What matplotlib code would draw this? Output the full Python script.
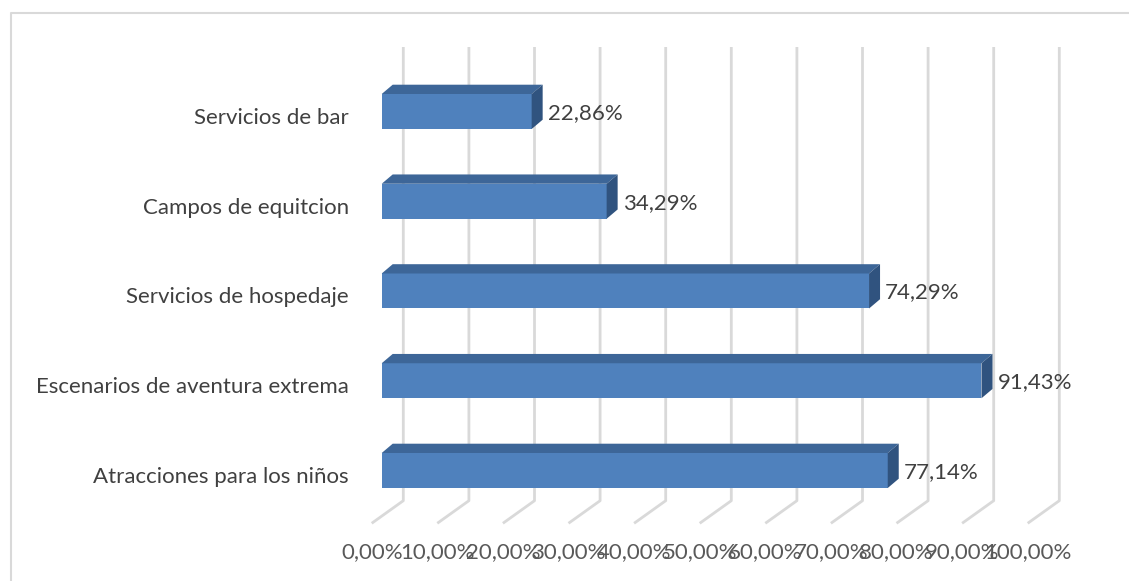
import matplotlib
matplotlib.use("Agg")
import matplotlib.pyplot as plt
from matplotlib.patches import Polygon
from matplotlib.lines import Line2D

categories = ["Servicios de bar", "Campos de equitcion", "Servicios de hospedaje",
              "Escenarios de aventura extrema", "Atracciones para los niños"]
values = [22.86, 34.29, 74.29, 91.43, 77.14]
ticks = [0, 10, 20, 30, 40, 50, 60, 70, 80, 90, 100]

plt.rcParams['font.family'] = ['Lato', 'DejaVu Sans']

W, H = 1129, 581
fig = plt.figure(figsize=(W / 100, H / 100), dpi=100)
ax = fig.add_axes([0, 0, 1, 1])
ax.set_axis_off()

# pixel scale of the front plane
sx = 6.56      # px per percent
sy = 89.75     # px per category step
x0_px = 381.7  # front plane 0 %
y0_px = 111.5  # first category centre
ax.set_xlim(-x0_px / sx, (W - x0_px) / sx)
ax.set_ylim((H - y0_px) / sy, -y0_px / sy)

def px_x(p):
    return p / sx

def px_y(p):
    return p / sy

def row_px(py):
    return (py - y0_px) / sy

front_c = "#4F81BD"
top_c = "#3D6698"
side_c = "#30537F"
grid_c = "#D9D9D9"
text_c = "#404040"
fs = 16

# back wall gridlines and floor
back_dx = px_x(21.6)
floor_dx = px_x(-10.0)
for t in ticks:
    ax.plot([t + back_dx, t + back_dx, t + floor_dx],
            [row_px(47), row_px(500.7), row_px(523.3)],
            color=grid_c, lw=2.0, zorder=1, solid_capstyle='butt')
    ax.text(t + floor_dx, row_px(552), f"{t:.2f}%".replace(".", ","),
            ha='center', va='center', fontsize=fs, color="#595959")

# bars with depth
bh = px_y(35)
ddx = px_x(11)
ddy = px_y(9.3)
ypos = list(range(len(values)))
ax.barh(ypos, values, height=bh, color=front_c, zorder=3)
for y, v in zip(ypos, values):
    top = y - bh / 2
    bot = y + bh / 2
    ax.add_patch(Polygon([(0, top), (v, top), (v + ddx, top - ddy), (ddx, top - ddy)],
                         closed=True, facecolor=top_c, edgecolor='none', zorder=3))
    ax.add_patch(Polygon([(v, top), (v + ddx, top - ddy), (v + ddx, bot - ddy), (v, bot)],
                         closed=True, facecolor=side_c, edgecolor='none', zorder=3))
    ax.text(v + px_x(16), y + px_y(1.5), f"{v:.2f}%".replace(".", ","),
            ha='left', va='center', fontsize=fs, color=text_c, zorder=4)

for y, name in zip(ypos, categories):
    ax.text(px_x(349 - x0_px), y + px_y(6.5), name, ha='right', va='center',
            fontsize=fs, color=text_c)

# chart area border
bx = 10.5 / W
by = 1 - 13 / H
fig.add_artist(Line2D([bx, bx, 1.01], [-0.01, by, by], transform=fig.transFigure,
                      color=grid_c, lw=1.5))

fig.savefig("out.png", dpi=100)
